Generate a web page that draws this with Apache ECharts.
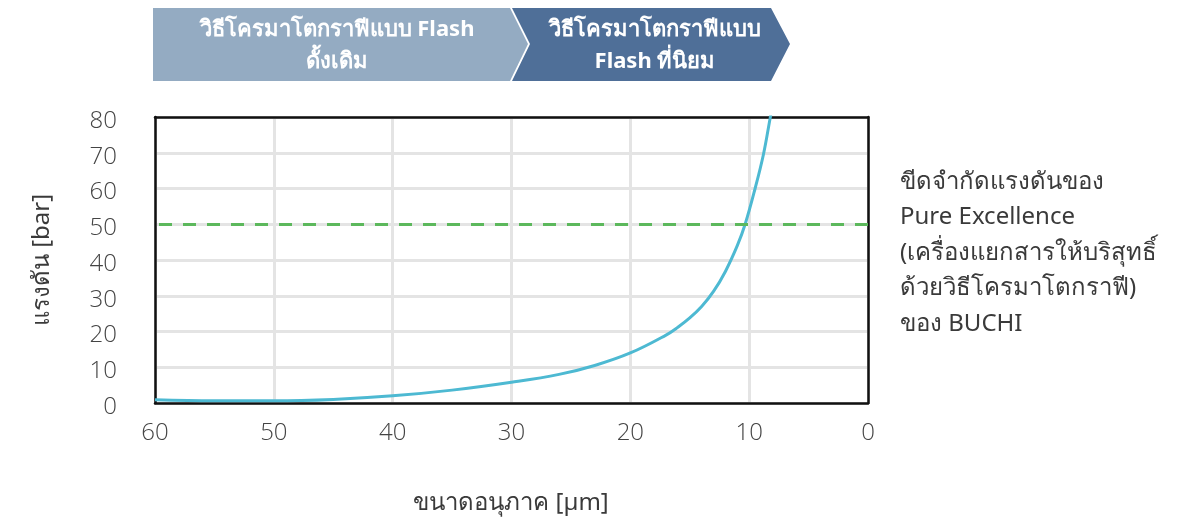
<!DOCTYPE html>
<html>
<head>
<meta charset="utf-8">
<script src="https://cdn.jsdelivr.net/npm/echarts@6/dist/echarts.min.js"></script>
<style>html,body{margin:0;padding:0;background:#fff;}#c{width:1189px;height:519px;}</style>
</head>
<body>
<div id="c"></div>
<script>
var particleSize = [60, 55, 50, 45, 40, 35, 30, 26, 23, 20, 17, 16, 15, 14, 13, 12, 11, 10.34, 9.5, 8.8, 8.24, 8.1];
var pressure = [0.9, 0.6, 0.6, 1.0, 2.0, 3.6, 5.8, 8.0, 10.5, 14.0, 19.0, 21.2, 23.8, 27.0, 31.2, 36.8, 44.0, 50.0, 60.0, 69.5, 79.6, 82.2];
var pressureLimit = 50;
var xTicks = [0, 10, 20, 30, 40, 50, 60];
var yTicks = [0, 10, 20, 30, 40, 50, 60, 70, 80];
var bannerLeft = 'วิธีโครมาโตกราฟีแบบ Flash\nดั้งเดิม';
var bannerRight = 'วิธีโครมาโตกราฟีแบบ\nFlash ที่นิยม';
var sideNote = 'ขีดจำกัดแรงดันของ\nPure Excellence\n(เครื่องแยกสารให้บริสุทธิ์\nด้วยวิธีโครมาโตกราฟี)\nของ BUCHI';
var xName = 'ขนาดอนุภาค [µm]';
var yName = 'แรงดัน [bar]';

var numFont = '"Open Sans", "Noto Sans", sans-serif';
var font = '"Noto Sans", sans-serif';
var frame = {show: true, onZero: false, lineStyle: {color: '#111', width: 2.5}};
var chart = echarts.init(document.getElementById('c'));
chart.setOption({
  animation: false,
  grid: {left: 155, right: 321, top: 117, bottom: 116, containLabel: false},
  xAxis: [{
    type: 'value', min: xTicks[0], max: xTicks[xTicks.length-1], interval: 10, inverse: true,
    axisLine: frame, axisTick: {show: false},
    axisLabel: {fontSize: 24, color: '#444', fontFamily: numFont, fontWeight: 300, margin: 18},
    splitLine: {show: true, lineStyle: {color: '#e4e4e4', width: 3}}
  }, {
    type: 'value', position: 'top', min: 0, max: 60, interval: 10, inverse: true,
    axisLine: frame, axisTick: {show: false}, axisLabel: {show: false}, splitLine: {show: false}
  }],
  yAxis: [{
    type: 'value', min: yTicks[0], max: yTicks[yTicks.length-1], interval: 10,
    axisLine: frame, axisTick: {show: false},
    axisLabel: {fontSize: 24, color: '#444', fontFamily: numFont, fontWeight: 300, margin: 38, verticalAlign: 'top', lineHeight: 8},
    splitLine: {show: true, lineStyle: {color: '#e4e4e4', width: 3}}
  }, {
    type: 'value', position: 'right', min: 0, max: 80, interval: 10,
    axisLine: frame, axisTick: {show: false}, axisLabel: {show: false}, splitLine: {show: false}
  }],
  series: [{
    type: 'line',
    data: particleSize.map(function(s, i){ return [s, pressure[i]]; }),
    smooth: 0.4, showSymbol: false, clip: true,
    lineStyle: {color: '#4db9d2', width: 3},
    markLine: {
      silent: true, symbol: 'none', label: {show: false},
      lineStyle: {color: '#5cb85c', width: 3, type: [13, 11]},
      data: [{yAxis: pressureLimit}]
    },
    z: 3
  }],
  graphic: [
    {type: 'polygon', shape: {points: [[153,8],[510,8],[528,44],[510,81],[153,81]]}, style: {fill: '#94abc2'}},
    {type: 'polygon', shape: {points: [[512,8],[771,8],[790,44],[771,81],[512,81],[530,44]]}, style: {fill: '#4f6f98'}},
    {type: 'text', style: {x: 337, y: 46, text: bannerLeft, fill: '#fff', font: 'bold 22px ' + font, align: 'center', verticalAlign: 'middle', lineHeight: 32}},
    {type: 'text', style: {x: 655, y: 46, text: bannerRight, fill: '#fff', font: 'bold 22px ' + font, align: 'center', verticalAlign: 'middle', lineHeight: 32}},
    {type: 'text', style: {x: 900, y: 253, text: sideNote, fill: '#3a3a3a', font: '24px ' + font, align: 'left', verticalAlign: 'middle', lineHeight: 35.5}},
    {type: 'text', style: {x: 511, y: 503, text: xName, fill: '#3a3a3a', font: '24px ' + font, align: 'center', verticalAlign: 'middle'}},
    {type: 'text', rotation: Math.PI/2, x: 42, y: 260, style: {x: 0, y: 0, text: yName, fill: '#3a3a3a', font: '24px ' + font, align: 'center', verticalAlign: 'middle'}}
  ]
});
</script>
</body>
</html>
